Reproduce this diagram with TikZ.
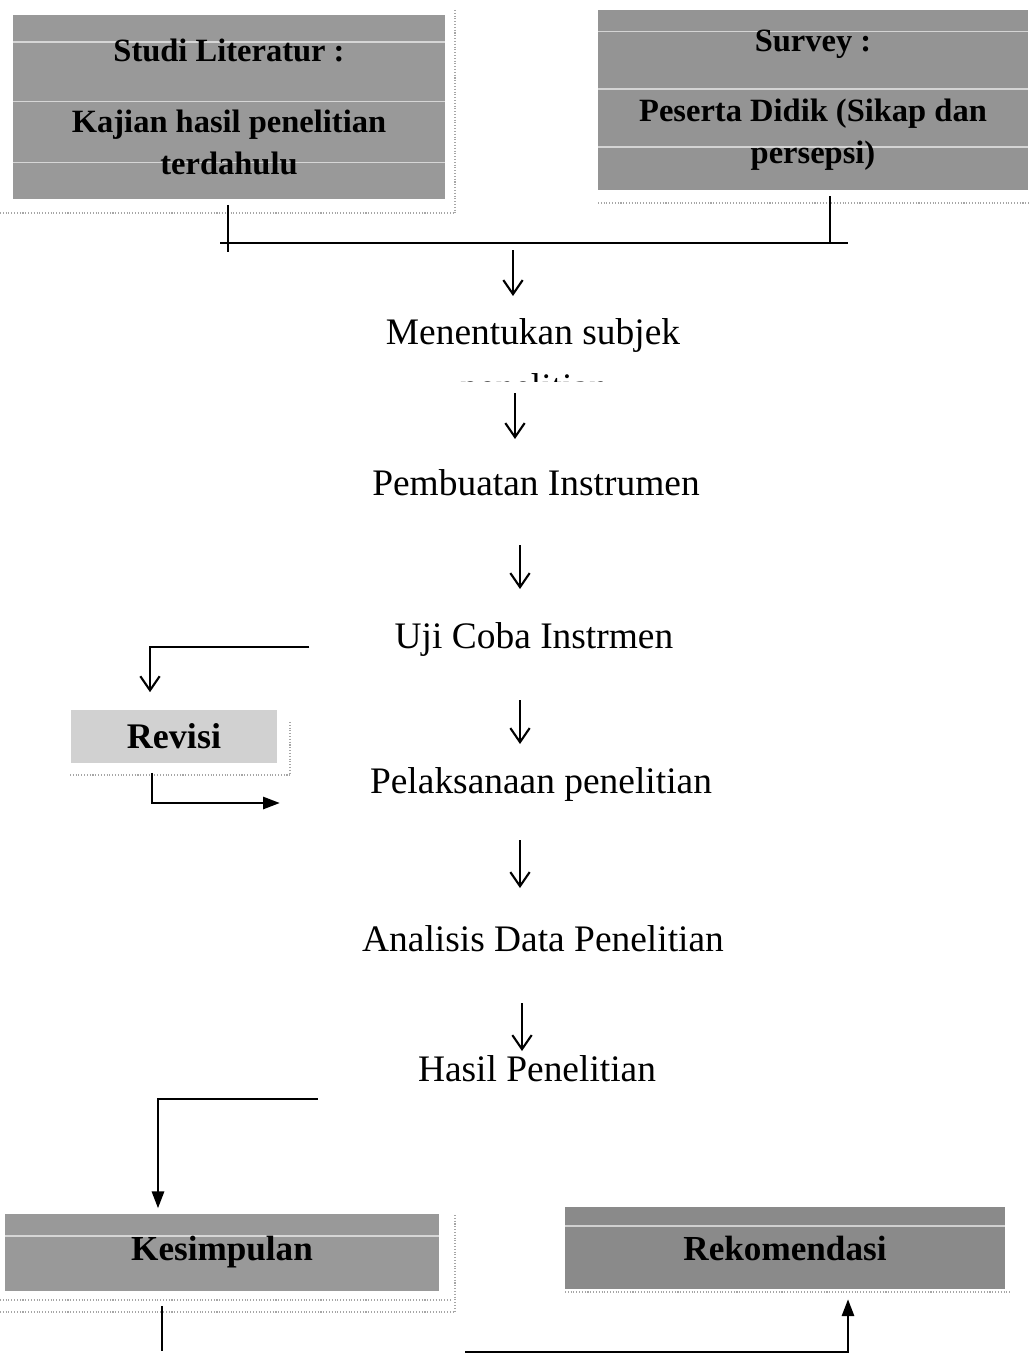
\documentclass[tikz,border=0pt]{standalone}
\usepackage{fontspec}
\setmainfont{Liberation Serif}
\usetikzlibrary{arrows.meta,calc}

\begin{document}
\begin{tikzpicture}[x=0.02cm,y=-0.02cm,
	stage/.style={inner sep=0pt,anchor=base,font=\fontsize{21.3}{25}\selectfont},
	panel/.style={inner sep=0pt,align=center,font=\fontsize{18.5}{24}\selectfont\bfseries},
	varr/.style={line width=1.2pt,-{Straight Barb[length=8pt,width=11pt]}},
	tarr/.style={line width=1.1pt,-{Triangle[length=9.5pt,width=7pt]}},
	guide/.style={gray!70,densely dotted,line width=0.6pt},
	streaks/.style={path picture={\foreach \f in {#1}
		\draw[white,line width=1pt,opacity=0.6] ($(path picture bounding box.north west)!\f!(path picture bounding box.south west)$) -- ++(12cm,0);}}]
		\useasboundingbox (0,0) rectangle (1030,1355);
		% kotak atas
		\node[panel,fill=black!40,streaks={0.15,0.47,0.8},minimum width=8.66cm,minimum height=3.7cm] (lit) at (229,107) {Studi Literatur :\\[16pt]Kajian hasil penelitian\\terdahulu};
		\node[panel,fill=black!42,streaks={0.12,0.44,0.76},minimum width=8.6cm,minimum height=3.6cm] (survey) at (813,100) {Survey :\\[16pt]Peserta Didik (Sikap dan\\persepsi)};
		\draw[guide] (455,10) -- (455,213) (0,213) -- (455,213) (598,203) -- (1030,203);
		\coordinate (barl) at (220,243);
		\coordinate (barr) at (848,243);
		\coordinate (bar) at (513,243);
		\draw[line width=1.2pt] (barl) -- (barr);
		\draw[line width=1.2pt] ($(lit.south)+(-1,5)$) -- ++(0,47);
		\draw[line width=1.2pt] ($(survey.south)+(17,6)$) -- ++(0,47);
		\draw[varr] (bar) ++(0,7) -- ++(0,46);
		% alur tengah
		\node[stage] (subj) at (533,344) {Menentukan subjek};
		\begin{scope}
			\clip (440,360) rectangle (640,381);
			\node[stage] (subjb) at (534,399) {penelitian};
		\end{scope}
		\node[stage] (instr) at (536,495) {Pembuatan Instrumen};
		\node[stage] (uji) at (534,648) {Uji Coba Instrmen};
		\node[stage] (pelak) at (541,793) {Pelaksanaan penelitian};
		\node[stage] (anal) at (543,951) {Analisis Data Penelitian};
		\node[stage] (hasil) at (537,1081) {Hasil Penelitian};
		\draw[varr] (subj.base) ++(-18,49) -- ++(0,46);
		\draw[varr] (instr.base) ++(-16,50) -- ++(0,44);
		\draw[varr] (uji.base) ++(-14,52) -- ++(0,44);
		\draw[varr] (pelak.base) ++(-21,47) -- ++(0,48);
		\draw[varr] (anal.base) ++(-21,52) -- ++(0,48);
		% revisi
		\node[panel,fill=black!18,minimum width=4.14cm,minimum height=1.06cm,font=\fontsize{20.5}{24}\selectfont\bfseries] (rev) at (174,736) {Revisi};
		\draw[guide] (70,775) -- (290,775) (290,722) -- (290,775);
		\draw[varr] (uji.base west) ++(-85,-1) -| ($(rev.north)+(-24,-17)$);
		\draw[tarr] ($(rev.south)+(-22,10)$) |- ($(pelak.base west)+(-90,10)$);
		% kotak bawah
		\node[panel,fill=black!40,streaks={0.29},minimum width=8.7cm,minimum height=1.54cm,font=\fontsize{20}{24}\selectfont\bfseries] (kes) at (222,1252) {Kesimpulan};
		\node[panel,fill=black!46,streaks={0.23},minimum width=8.8cm,minimum height=1.64cm,font=\fontsize{20}{24}\selectfont\bfseries] (rek) at (785,1248) {Rekomendasi};
		\draw[guide] (0,1300) -- (450,1300) (0,1312) -- (455,1312) (455,1215) -- (455,1312) (565,1292) -- (1010,1292);
		\draw[tarr] ($(hasil.base west)+(-100,18)$) -| ($(kes.north)+(-64,-5)$);
		\draw[line width=1.2pt] ($(kes.south)+(-60,15)$) -- ++(0,45);
		\coordinate (lowleft) at (465,1352);
		\draw[tarr] (lowleft) -| ($(rek.south)+(63,10)$);
\end{tikzpicture}
\end{document}
